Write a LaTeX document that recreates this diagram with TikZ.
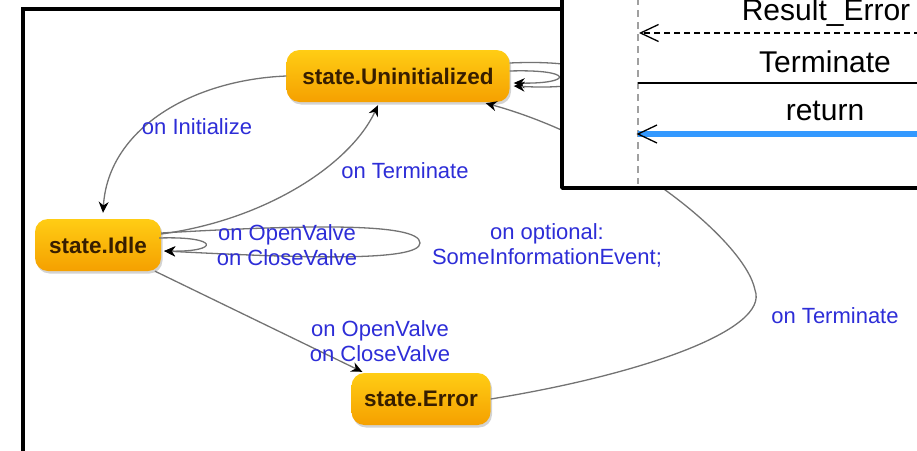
\documentclass[tikz,border=0pt]{standalone}
\usepackage{fontspec}
\setmainfont{Liberation Sans}
\usetikzlibrary{arrows.meta,shadows}

\definecolor{lblblue}{RGB}{45,45,215}
\definecolor{nodetop}{RGB}{255,205,20}
\definecolor{nodebot}{RGB}{245,160,0}
\definecolor{nodetxt}{RGB}{55,30,0}
\definecolor{edgegray}{RGB}{115,115,115}
\definecolor{lifegray}{RGB}{160,160,160}
\definecolor{msgblue}{RGB}{51,153,255}

\tikzset{
  statenode/.style={rounded corners=13pt, top color=nodetop, bottom color=nodebot,
    draw=none, text=nodetxt, font=\fontsize{22.5}{27}\selectfont\bfseries,
    minimum height=52pt, inner xsep=0pt,
    drop shadow={opacity=0.35, shadow xshift=1.5pt, shadow yshift=-2.5pt}},
  evlabel/.style={text=lblblue, font=\fontsize{22}{25}\selectfont, align=center, inner sep=0pt},
  trans/.style={draw=edgegray, line width=1.3pt, -{Stealth[length=11pt,width=10pt,color=black]}},
  seqtext/.style={text=black, font=\fontsize{30}{34}\selectfont, inner sep=0pt, anchor=base},
  msgline/.style={black, line width=1.3pt}
}

\begin{document}
\begin{tikzpicture}[x=1pt,y=-1pt]
\useasboundingbox (0,0) rectangle (917,450);

% outer frame of the state chart
\draw[line width=3.2pt] (23,470) -- (23,9) -- (600,9);

% states
\node[statenode, minimum width=223pt] (uninit) at (398,76) {state.Uninitialized};
\node[statenode, minimum width=126pt] (idle) at (98,245) {state.Idle};
\node[statenode, minimum width=139pt] (err) at (421,399) {state.Error};

% transitions
\draw[trans] (uninit.west) .. controls (190,80) and (108,130) .. ([shift={(5,-6)}]idle.north);
\draw[trans] ([shift={(0,-11)}]idle.east) .. controls (265,220) and (350,165) .. ([shift={(-20,3)}]uninit.south);
\draw[trans] ([shift={(-2,-7)}]idle.east) .. controls (220,236) and (220,252) .. ([shift={(3,6)}]idle.east);
\draw[trans] ([shift={(0,-12)}]idle.east) .. controls (300,225) and (420,222) .. (420,243)
   .. controls (420,262) and (300,258) .. ([shift={(3,6)}]idle.east);
\draw[trans] ([shift={(57,0)}]idle.south) -- ([shift={(11,-1)}]err.north west);
\draw[trans] (err.east) .. controls (640,375) and (770,330) .. (755,290)
   .. controls (745,240) and (620,140) .. ([shift={(-24,1)}]uninit.south east);
\draw[trans] ([shift={(0,-5)}]uninit.east) .. controls (574,69) and (574,84) .. ([shift={(4,7)}]uninit.east);
\draw[trans] ([shift={(0,-13)}]uninit.east) .. controls (620,58) and (620,92) .. ([shift={(4,10)}]uninit.east);

% event labels
\node[evlabel] (lInit) at (197,127) {on Initialize};
\node[evlabel] (lTerm1) at (405,171) {on Terminate};
\node[evlabel] (lLoop) at (287,245) {on OpenValve\\on CloseValve};
\node[evlabel] (lOpt) at (547,245) {on optional:\\SomeInformationEvent;};
\node[evlabel] (lValve) at (380,341) {on OpenValve\\on CloseValve};
\node[evlabel] (lTerm2) at (835,316) {on Terminate};

% sequence fragment drawn on top
\draw[line width=3.5pt, fill=white, line join=round] (562,-20) rectangle (940,188);
\coordinate (lifetop) at (638,-2);
\coordinate (lifebot) at (638,184);
\draw[lifegray, line width=1.6pt, dash pattern=on 7pt off 5pt] (lifetop) -- (lifebot);

\node[seqtext] (tRes) at (826,20) {Result\_Error};
\coordinate (resR) at (930,33);
\coordinate (resL) at (639,33);
\draw[msgline, dash pattern=on 6pt off 4pt, -{Straight Barb[length=18pt,width=17pt,line width=1.3pt]}] (resR) -- (resL);

\node[seqtext] (tTerm) at (825,72) {Terminate};
\coordinate (termL) at (638,83);
\coordinate (termR) at (930,83);
\draw[msgline] (termL) -- (termR);

\node[seqtext] (tRet) at (825,120) {return};
\coordinate (retR) at (930,134);
\coordinate (retL) at (638,134);
\draw[msgblue, line width=6pt] (retR) -- (retL);
\draw[msgline, line join=miter] ([shift={(19,-9)}]retL) -- (retL) -- ([shift={(19,9)}]retL);
\end{tikzpicture}
\end{document}
